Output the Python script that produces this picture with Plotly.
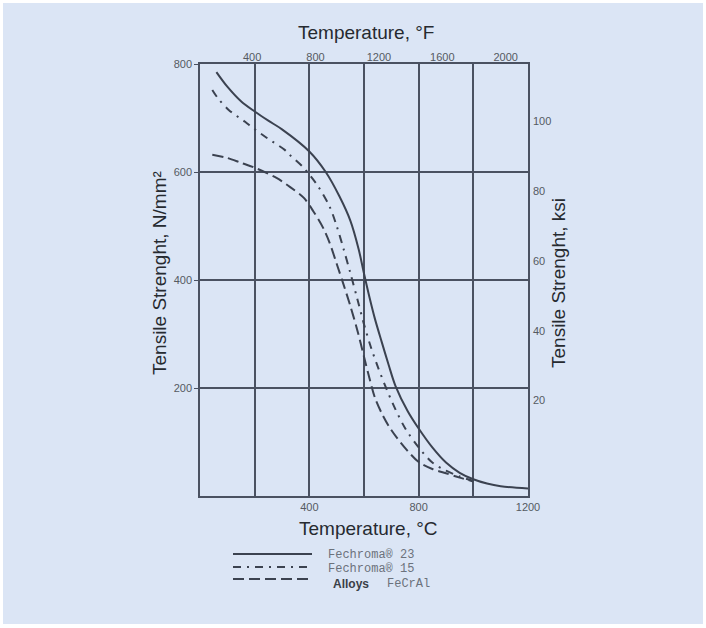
import plotly.graph_objects as go

# ---------------- data ----------------
fc23_temp = [60, 100, 150, 200, 250, 300, 400, 460, 510, 550, 580, 600, 620, 640, 665, 690, 715, 760, 800, 850, 900, 950, 1000, 1050, 1100, 1200]
fc23_str  = [785, 758, 731, 712, 695, 679, 638, 600, 555, 510, 458, 412, 368, 328, 285, 243, 204, 157, 125, 90, 62, 43, 31, 23, 18, 14]

fc15_temp = [45, 65, 105, 165, 190, 245, 310, 330, 377, 430, 475, 500, 525, 550, 575, 600, 625, 650, 680, 710, 750, 800, 850, 900, 950, 1000]
fc15_str  = [752, 737, 715, 693, 683, 663, 641, 631, 609, 575, 535, 500, 458, 413, 366, 318, 276, 240, 201, 166, 126, 90, 62, 47, 36, 28]

fecral_temp = [45, 100, 150, 200, 280, 330, 380, 415, 450, 475, 500, 525, 550, 575, 600, 620, 640, 665, 690, 720, 757, 800, 850, 900, 950, 1000]
fecral_str  = [632, 626, 617, 608, 589, 572, 552, 527, 497, 468, 430, 392, 352, 308, 258, 218, 182, 153, 130, 108, 85, 63, 50, 42, 34, 27]

series_names = ["Fechroma\u00ae 23", "Fechroma\u00ae 15", "Alloys FeCrAl"]

c_ticks = [200, 400, 600, 800, 1000, 1200]
c_ticktext = ["", "400", "", "800", "", "1200"]
f_ticks = [400, 800, 1200, 1600, 2000]
n_ticks = [200, 400, 600, 800]
ksi_ticks = [20, 40, 60, 80, 100]

# unit conversions for the secondary (top / right) scales
def c_to_f(c):
    return c * 9.0 / 5.0 + 32.0

def n_to_ksi(n):
    return n / 6.895

# ---------------- style ----------------
W, H = 706, 628
L, R, T, B = 200, 528, 64, 496
BG = "#dbe5f5"
INK = "#3b4250"
GRID = "#4a5161"
TICKC = "#555a62"
TITLEC = "#262a30"
FONT = "Liberation Sans, Arial, sans-serif"
MONO = "Liberation Mono, DejaVu Sans Mono, monospace"

def xp(px):
    return (px - L) / (R - L)

def yp(py):
    return (B - py) / (B - T)

DASHDOT = "8px,6px,2px,6px"
DASHED = "11px,5px"
SM = 0.9

fig = go.Figure()
fig.add_trace(go.Scatter(x=fc23_temp, y=fc23_str, mode="lines", name=series_names[0],
                         line=dict(color=INK, width=2, shape="spline", smoothing=SM)))
fig.add_trace(go.Scatter(x=fc15_temp, y=fc15_str, mode="lines", name=series_names[1],
                         line=dict(color=INK, width=2, dash=DASHDOT, shape="spline", smoothing=SM)))
fig.add_trace(go.Scatter(x=fecral_temp, y=fecral_str, mode="lines", name=series_names[2],
                         line=dict(color=INK, width=2, dash=DASHED, shape="spline", smoothing=SM)))
# same curve expressed in °F and ksi (transparent) so the secondary scales are drawn
fig.add_trace(go.Scatter(x=[c_to_f(c) for c in fc23_temp], y=fc23_str, xaxis="x2", yaxis="y",
                         mode="lines", line=dict(width=0), opacity=0, hoverinfo="skip", showlegend=False))
fig.add_trace(go.Scatter(x=fc23_temp, y=[n_to_ksi(s) for s in fc23_str], xaxis="x", yaxis="y2",
                         mode="lines", line=dict(width=0), opacity=0, hoverinfo="skip", showlegend=False))

shapes = [
    dict(type="rect", xref="paper", yref="paper", layer="below",
         x0=xp(3), x1=xp(703), y0=yp(624), y1=yp(3), fillcolor=BG, line=dict(width=0)),
]
# legend samples
leg_y = [554, 567, 579]
leg_dash = ["solid", DASHDOT, DASHED]
for yy, dd in zip(leg_y, leg_dash):
    shapes.append(dict(type="line", xref="paper", yref="paper",
                       x0=xp(233), x1=xp(312), y0=yp(yy), y1=yp(yy),
                       line=dict(color=INK, width=2, dash=dd)))

def ann(text, px, py, font, angle=0, xanchor="center"):
    return dict(text=text, xref="paper", yref="paper", x=xp(px), y=yp(py),
                xanchor=xanchor, yanchor="middle", textangle=angle,
                showarrow=False, font=font)

title_font = dict(family=FONT, size=19, color=TITLEC)
mono_font = dict(family=MONO, size=12, color="#6c727c")
annotations = [
    ann("Temperature, \u00b0F", 366, 33, title_font),
    ann("Temperature, \u00b0C", 368, 528, title_font),
    ann("Tensile Strenght, N/mm\u00b2", 159, 273, title_font, angle=-90),
    ann("Tensile Strenght, ksi", 558, 283, title_font, angle=-90),
    ann(series_names[0], 326, 555, mono_font, xanchor="left"),
    ann(series_names[1], 326, 569, mono_font, xanchor="left"),
    ann("<b>" + series_names[2].split(" ")[0] + "</b>", 331, 584,
        dict(family=FONT, size=12, color="#3a3f48"), xanchor="left"),
    ann(series_names[2].split(" ")[1], 385, 584, mono_font, xanchor="left"),
]

fig.update_layout(
    width=W, height=H,
    margin=dict(l=L, r=W - R, t=T, b=H - B, pad=0),
    paper_bgcolor="white",
    plot_bgcolor="rgba(0,0,0,0)",
    showlegend=False,
    shapes=shapes,
    annotations=annotations,
    xaxis=dict(range=[0, 1200], tickvals=c_ticks, ticktext=c_ticktext,
               showgrid=True, gridcolor=GRID, gridwidth=1.5,
               showline=True, linecolor=GRID, linewidth=1.5, mirror=True,
               ticks="", zeroline=False,
               tickfont=dict(family=FONT, size=11, color=TICKC)),
    yaxis=dict(range=[0, 800], tickvals=n_ticks,
               showgrid=True, gridcolor=GRID, gridwidth=1.5,
               showline=True, linecolor=GRID, linewidth=1.5, mirror=True,
               ticks="outside", ticklen=4, tickcolor=GRID, zeroline=False,
               tickfont=dict(family=FONT, size=11, color=TICKC)),
    xaxis2=dict(range=[71, 2141], overlaying="x", side="top", anchor="y",
                tickvals=f_ticks, showgrid=False, showline=False, ticks="", zeroline=False,
                tickfont=dict(family=FONT, size=11, color=TICKC)),
    yaxis2=dict(range=[-7.4, 116.5], overlaying="y", side="right", anchor="x",
                tickvals=ksi_ticks, showgrid=False, showline=False, ticks="", zeroline=False,
                ticklabelstandoff=4,
                tickfont=dict(family=FONT, size=11, color=TICKC)),
)

fig.write_html("out.html")
